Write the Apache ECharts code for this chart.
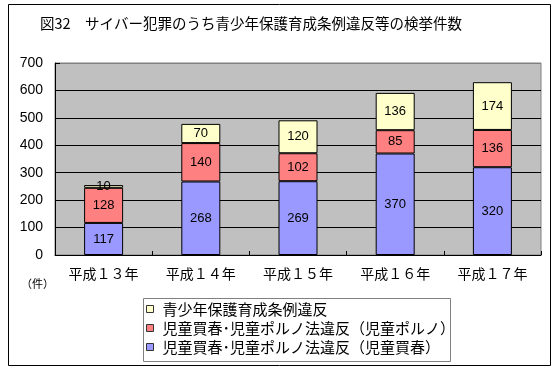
<!DOCTYPE html>
<html>
<head>
<meta charset="utf-8">
<script src="https://cdn.jsdelivr.net/npm/echarts@6/dist/echarts.min.js"></script>
<style>
html,body{margin:0;padding:0;background:#fff;}
#chart{width:558px;height:374px;}
</style>
</head>
<body>
<div id="chart"></div>
<script>
const titleText = '図32　サイバー犯罪のうち青少年保護育成条例違反等の検挙件数';
const categories = ['平成１３年', '平成１４年', '平成１５年', '平成１６年', '平成１７年'];
const seriesNames = ['児童買春･児童ポルノ法違反（児童買春）', '児童買春･児童ポルノ法違反（児童ポルノ）', '青少年保護育成条例違反'];
const kaishun = [117, 268, 269, 370, 320];
const porno = [128, 140, 102, 85, 136];
const jorei = [10, 70, 120, 136, 174];
const yTicks = [0, 100, 200, 300, 400, 500, 600, 700];
const unitLabel = '（件）';

const colors = ['#9999FF', '#FF8080', '#FFFFCC'];
const font = "'Liberation Sans', 'Noto Sans CJK JP', sans-serif";
const jpFont = "'Noto Sans CJK JP', sans-serif";

const chart = echarts.init(document.getElementById('chart'), null, {renderer: 'canvas'});

function barSeries(name, data, color) {
  return {
    name: name,
    type: 'bar',
    stack: 'total',
    data: data,
    barWidth: 39,
    itemStyle: {color: color, borderColor: '#000', borderWidth: 1},
    label: {show: true, position: 'inside', color: '#000', fontSize: 13, fontFamily: font},
    emphasis: {disabled: true}
  };
}

chart.setOption({
  animation: false,
  backgroundColor: '#fff',
  grid: {left: 55, right: 17, top: 63, bottom: 119, show: true, backgroundColor: '#C0C0C0', borderColor: '#808080', borderWidth: 1},
  xAxis: {
    type: 'category',
    data: categories,
    axisLine: {lineStyle: {color: '#000', width: 1}},
    axisTick: {show: true, inside: true, length: 4, lineStyle: {color: '#000'}},
    axisLabel: {color: '#000', fontSize: 14, fontFamily: jpFont, margin: 12},
    splitLine: {show: false}
  },
  yAxis: {
    type: 'value',
    min: yTicks[0],
    max: yTicks[yTicks.length - 1],
    interval: 100,
    axisLine: {show: true, lineStyle: {color: '#000', width: 1}},
    axisTick: {show: true, inside: true, length: 5, lineStyle: {color: '#000'}},
    axisLabel: {color: '#000', fontSize: 14, fontFamily: font, margin: 12},
    splitLine: {show: true, lineStyle: {color: ['#000', '#000', '#000', '#000', '#000', '#000', '#000', '#808080'], width: 1}}
  },
  legend: {
    orient: 'vertical',
    left: 143,
    top: 301,
    data: [seriesNames[2], seriesNames[1], seriesNames[0]],
    icon: 'rect',
    itemWidth: 7,
    itemHeight: 7,
    itemGap: 3,
    padding: [0, 0, 0, 3],
    textStyle: {color: '#000', fontSize: 15, fontFamily: jpFont, padding: [0, 0, 0, 4], lineHeight: 16},
    itemStyle: {borderColor: '#333', borderWidth: 1}
  },
  graphic: [
    {type: 'rect', shape: {x: 8.5, y: 4.5, width: 542, height: 361}, style: {fill: 'none', stroke: '#000', lineWidth: 1}, z: 100},
    {type: 'rect', shape: {x: 143.5, y: 298.5, width: 307, height: 63}, style: {fill: 'none', stroke: '#808080', lineWidth: 1}, z: 100},
    {type: 'text', left: 40, top: 16, style: {text: titleText, fontSize: 14.5, fontFamily: jpFont, fill: '#000'}},
    {type: 'text', left: 21, top: 278, style: {text: unitLabel, fontSize: 11, fontFamily: jpFont, fill: '#000'}}
  ],
  series: [
    barSeries(seriesNames[0], kaishun, colors[0]),
    barSeries(seriesNames[1], porno, colors[1]),
    barSeries(seriesNames[2], jorei, colors[2])
  ]
});
</script>
</body>
</html>
